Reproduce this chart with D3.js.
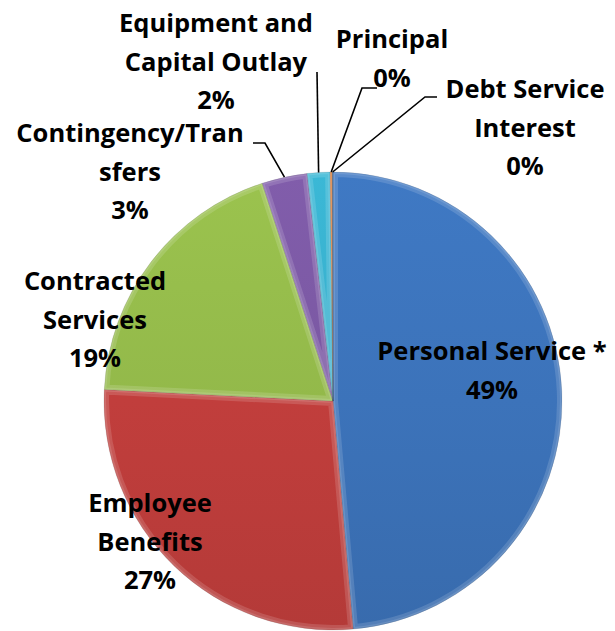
<!DOCTYPE html>
<html><head><meta charset="utf-8">
<script src="https://cdn.jsdelivr.net/npm/d3@7"></script>
<style>body{margin:0;background:#fff}svg{display:block}</style></head>
<body><svg id="c" width="615" height="631"></svg>
<script>
// ---- data ----
const categories = ["Personal Service *","Employee Benefits","Contracted Services","Contingency/Transfers","Equipment and Capital Outlay","Principal","Debt Service Interest"];
const values = [48.6, 27.2, 19.2, 3.2, 1.6, 0.15, 0.05];
const labelLines = [["Personal Service *"],["Employee","Benefits"],["Contracted","Services"],["Contingency/Tran","sfers"],["Equipment and","Capital Outlay"],["Principal"],["Debt Service","Interest"]];
const colors = ["#3C73BA","#C13E3C","#93B94A","#7A58A2","#38AECB","#D9762E","#2C4D75"];

// ---- layout ----
const W = 615, H = 631, cx = 333, cy = 401, R = 229;
const labelAnchor = [[492,360],[150,512],[95,290],[130,142],[216,32],[392,48],[525,98]];
const leaderKnee = [null,null,null,[[253,143],[265,143]],[[317,72]],[[377,88],[362,88]],[[437,97],[425,97]]];
const lineH = 38.5;

const svg = d3.select("#c");
const defs = svg.append("defs");
const g = svg.append("g").attr("transform", `translate(${cx},${cy})`);

const pie = d3.pie().sort(null).value(d => d)(values);
const arc = d3.arc().innerRadius(0).outerRadius(R);
const total = d3.sum(values);

pie.forEach((d, i) => {
  const c = d3.color(colors[i]);
  const gr = defs.append("linearGradient").attr("id", "g" + i)
    .attr("gradientUnits", "userSpaceOnUse").attr("x1", 0).attr("y1", -R).attr("x2", 0).attr("y2", R);
  gr.append("stop").attr("offset", 0).attr("stop-color", c.brighter(0.15));
  gr.append("stop").attr("offset", 0.5).attr("stop-color", c);
  gr.append("stop").attr("offset", 1).attr("stop-color", c.darker(0.2));
  defs.append("clipPath").attr("id", "cp" + i).append("path").attr("d", arc(d));
});

const slices = g.selectAll("g.s").data(pie).join("g").attr("class", "s");
slices.append("path").attr("d", arc).attr("fill", (d, i) => `url(#g${i})`);
// soft bevel highlight
slices.append("path").attr("d", arc).attr("fill", "none")
  .attr("stroke", "#fff").attr("stroke-opacity", 0.14).attr("stroke-width", 10)
  .attr("clip-path", (d, i) => `url(#cp${i})`);
slices.append("path").attr("d", arc).attr("fill", "none")
  .attr("stroke", "#fff").attr("stroke-opacity", 0.12).attr("stroke-width", 4)
  .attr("clip-path", (d, i) => `url(#cp${i})`);
slices.append("path").attr("d", arc).attr("fill", "none")
  .attr("stroke", "#000").attr("stroke-opacity", 0.1).attr("stroke-width", 1);

// leader lines
pie.forEach((d, i) => {
  if (!leaderKnee[i]) return;
  const a = (d.startAngle + d.endAngle) / 2;
  const p = [R * Math.sin(a), -R * Math.cos(a)];
  const pts = leaderKnee[i].map(q => [q[0] - cx, q[1] - cy]).concat([p]);
  g.append("path").attr("d", d3.line()(pts)).attr("fill", "none")
    .attr("stroke", "#000").attr("stroke-width", 1.6);
});

// labels
const lab = svg.append("g").attr("font-family", "'Open Sans', Lato, sans-serif")
  .attr("font-weight", "bold").attr("font-size", 25.5).attr("fill", "#000").attr("text-anchor", "middle");
pie.forEach((d, i) => {
  const lines = labelLines[i].concat([Math.round(values[i] / total * 100) + "%"]);
  const t = lab.append("text").attr("x", labelAnchor[i][0]).attr("y", labelAnchor[i][1]);
  lines.forEach((s, k) => t.append("tspan").attr("x", labelAnchor[i][0]).attr("dy", k ? lineH : 0).text(s));
});
</script></body></html>
